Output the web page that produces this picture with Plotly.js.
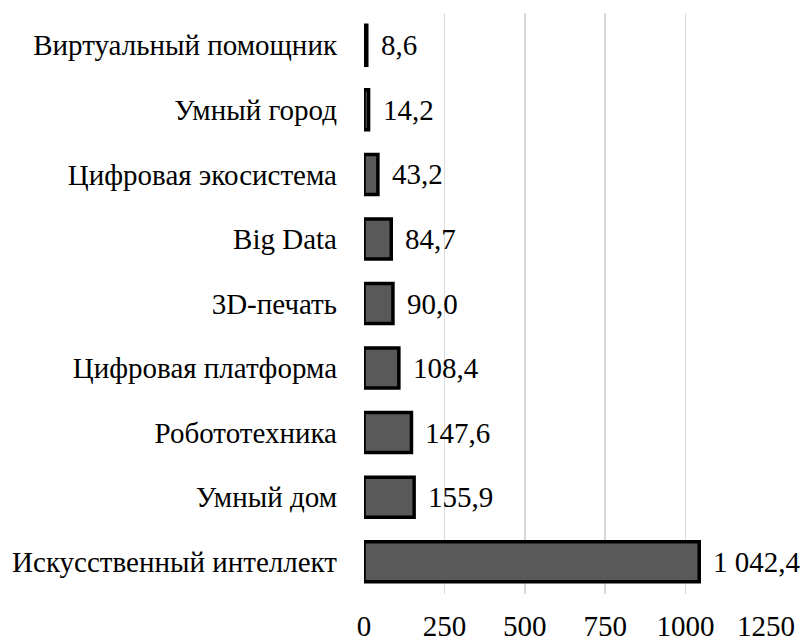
<!DOCTYPE html>
<html>
<head>
<meta charset="utf-8">
<script src="https://cdn.plot.ly/plotly-3.0.1.min.js"></script>
</head>
<body style="margin:0">
<div id="chart" style="width:805px;height:641px"></div>
<script>
const categories = ["Искусственный интеллект","Умный дом","Робототехника","Цифровая платформа","3D-печать","Big Data","Цифровая экосистема","Умный город","Виртуальный помощник"];
const values = [1042.4, 155.9, 147.6, 108.4, 90.0, 84.7, 43.2, 14.2, 8.6];
const tickVals = [0, 250, 500, 750, 1000, 1250];

function fmt(v){
  const parts = v.toFixed(1).split(".");
  const intPart = parts[0].replace(/\B(?=(\d{3})+(?!\d))/g, " ");
  return intPart + "," + parts[1];
}

const trace = {
  type: "bar",
  orientation: "h",
  x: values,
  y: categories,
  marker: {color: "#595959", line: {color: "#000000", width: 3.5}},
  hoverinfo: "none"
};

const annotations = values.map((v,i)=>({
  x: v, y: categories[i], xref: "x", yref: "y",
  text: fmt(v), showarrow: false, xanchor: "left", yanchor: "middle",
  xshift: 12, font: {family: "Liberation Serif", size: 29, color: "#000"}
}));

const layout = {
  width: 805, height: 641,
  margin: {l: 364, r: 39, t: 13, b: 47},
  paper_bgcolor: "#fff", plot_bgcolor: "#fff",
  showlegend: false,
  bargap: 0.38,
  xaxis: {
    range: [0, 1250], tickvals: tickVals, ticktext: tickVals.map(String),
    showgrid: true, gridcolor: "#d9d9d9", gridwidth: 1.5,
    zeroline: false, showline: false, ticks: "", ticklabelstandoff: 12,
    tickfont: {family: "Liberation Serif", size: 29, color: "#000"}, fixedrange: true
  },
  yaxis: {
    categoryorder: "array", categoryarray: categories,
    showgrid: false, zeroline: false, showline: false, ticks: "",
    ticklabelstandoff: 26,
    tickfont: {family: "Liberation Serif", size: 29, color: "#000"}, fixedrange: true
  },
  annotations: annotations
};

Plotly.newPlot("chart", [trace], layout, {displayModeBar: false, staticPlot: true});
</script>
</body>
</html>
